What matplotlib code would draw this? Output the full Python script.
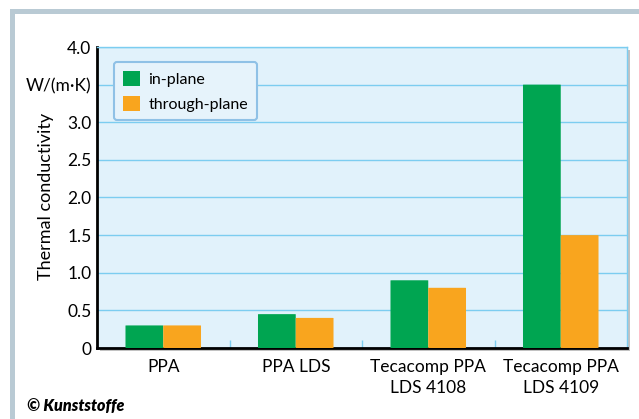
import matplotlib.pyplot as plt
import numpy as np
from matplotlib.patches import FancyBboxPatch, Rectangle

categories = ['PPA', 'PPA LDS', 'Tecacomp PPA\nLDS 4108', 'Tecacomp PPA\nLDS 4109']
in_plane = [0.3, 0.45, 0.9, 3.5]
through_plane = [0.3, 0.4, 0.8, 1.5]
ytick_vals = [0, 0.5, 1.0, 1.5, 2.0, 2.5, 3.0, 3.5, 4.0]
ytick_labels = ['0', '0.5', '1.0', '1.5', '2.0', '2.5', '3.0', 'W/(m·K)', '4.0']

GREEN = '#00A551'
ORANGE = '#F9A51E'
plt.rcParams['font.family'] = ['Lato', 'DejaVu Sans']

W, H = 639, 419
fig = plt.figure(figsize=(W / 100, H / 100), dpi=100)
fig.patch.set_facecolor('white')

# outer frame (top and left strips)
fig.add_artist(Rectangle((10 / W, 0), 4.5 / W, 1 - 9 / H, transform=fig.transFigure,
                         color='#B9CAD4', lw=0))
fig.add_artist(Rectangle((10 / W, 1 - 14 / H), 1, 5 / H, transform=fig.transFigure,
                         color='#B9CAD4', lw=0))

left, right, top, bottom = 97, 627, 47, 348
ax = fig.add_axes([left / W, 1 - bottom / H, (right - left) / W, (bottom - top) / H])

# drop shadow behind the plot area
fig.add_artist(Rectangle(((left + 3) / W, 1 - (bottom + 3) / H), (right - left) / W,
                         (bottom - top) / H, transform=fig.transFigure,
                         color='#9A9A9A', alpha=0.6, lw=0, zorder=0))

ax.set_facecolor('#E1F2FB')
x = np.arange(len(categories))
w = 0.285
for xi, v in zip(x, in_plane):
    ax.add_patch(FancyBboxPatch((xi - w, 0), w, v, boxstyle='round,pad=0,rounding_size=0.02',
                                mutation_aspect=1 / 15, fc=GREEN, ec='none', zorder=3))
for xi, v in zip(x, through_plane):
    ax.add_patch(FancyBboxPatch((xi, 0), w, v, boxstyle='round,pad=0,rounding_size=0.02',
                                mutation_aspect=1 / 15, fc=ORANGE, ec='none', zorder=3))

ax.set_xlim(-0.5, 3.5)
ax.set_ylim(0, 4.0)
ax.set_yticks(ytick_vals)
ax.set_yticklabels(ytick_labels, fontsize=12.5)
ax.set_xticks(x)
ax.set_xticklabels(categories, fontsize=12.5, linespacing=1.4)
ax.tick_params(axis='both', length=0, pad=4)
ax.tick_params(axis='x', pad=8)
ax.set_xticks([0.5, 1.5, 2.5], minor=True)
ax.tick_params(axis='x', which='minor', direction='in', length=6, color='#7CCDF0', width=1)
ax.yaxis.grid(True, color='#7CCDF0', lw=1)
ax.set_axisbelow(True)

for s in ['left', 'bottom']:
    ax.spines[s].set_linewidth(2)
    ax.spines[s].set_color('black')
for s in ['top', 'right']:
    ax.spines[s].set_linewidth(1)
    ax.spines[s].set_color('#7CCDF0')

ax.set_ylabel('Thermal conductivity', fontsize=13)
ax.yaxis.set_label_coords(-0.082, 0.505)

handles = [Rectangle((0, 0), 1, 1, fc=GREEN), Rectangle((0, 0), 1, 1, fc=ORANGE)]
leg = ax.legend(handles, ['in-plane', 'through-plane'], loc='upper left',
                bbox_to_anchor=(0.017, 0.977), fontsize=11.5, frameon=True,
                fancybox=True, handlelength=1.1, handleheight=1.1, handletextpad=0.5,
                borderpad=0.55, labelspacing=0.55)
leg.get_frame().set_facecolor('#E6F3FB')
leg.get_frame().set_edgecolor('#8FC1E6')
leg.get_frame().set_linewidth(1.5)
leg.get_frame().set_alpha(1)

fig.text(27 / W, 1 - 406 / H, '© Kunststoffe', fontsize=11.5, fontweight='heavy',
         style='italic', va='center', ha='left')

fig.savefig('out.png', dpi=100)
